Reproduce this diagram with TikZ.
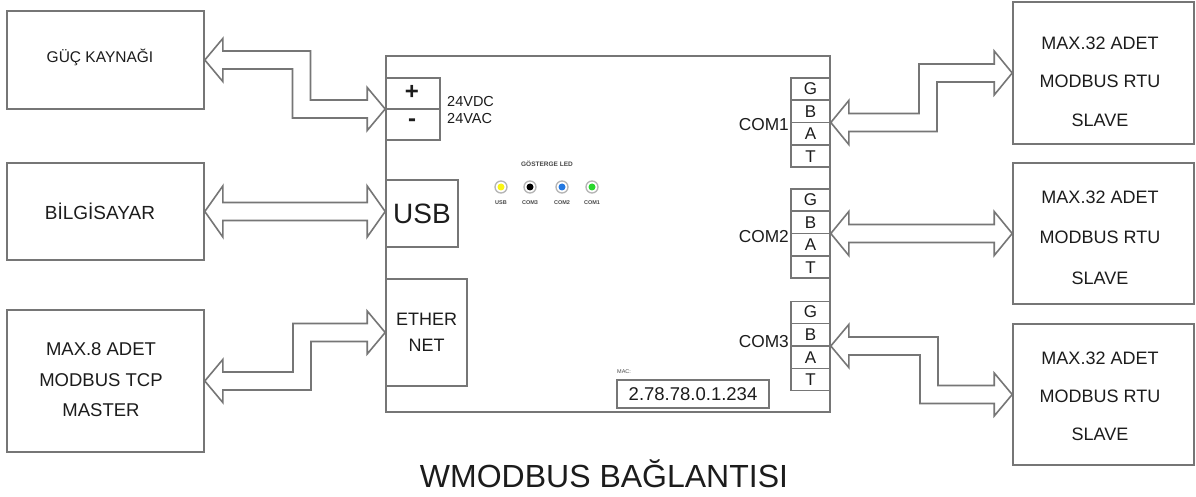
\documentclass[tikz,border=0pt]{standalone}
\usepackage{fontspec}
\setmainfont{Liberation Sans}
\usetikzlibrary{calc}
\definecolor{lc}{RGB}{118,118,118}
\definecolor{tc}{RGB}{28,28,28}
\definecolor{ledY}{RGB}{250,245,20}
\definecolor{ledB}{RGB}{35,120,225}
\definecolor{ledG}{RGB}{40,215,45}
\newcommand{\fs}[2]{\fontsize{#1}{#2}\selectfont}
% #1 left node anchor, #2 right node anchor, #3 step x, #4 direction (+1 down, -1 up, 0 straight), #5 head half width
\newcommand{\dblarrow}[5]{%
 \draw[arr] let \p1=(#1), \p2=(#2) in
  (\p1) -- (\x1+18pt,\y1+#5pt) -- (\x1+18pt,\y1+9pt)
  -- ({#3pt+(#4)*9pt},\y1+9pt) -- ({#3pt+(#4)*9pt},\y2+9pt)
  -- (\x2-18pt,\y2+9pt) -- (\x2-18pt,\y2+#5pt) -- (\p2)
  -- (\x2-18pt,\y2-#5pt) -- (\x2-18pt,\y2-9pt)
  -- ({#3pt-(#4)*9pt},\y2-9pt) -- ({#3pt-(#4)*9pt},\y1-9pt)
  -- (\x1+18pt,\y1-9pt) -- (\x1+18pt,\y1-#5pt) -- cycle;}
\tikzset{
  box/.style={draw=lc, line width=1.6pt, fill=white, inner sep=0pt, align=center, text=tc},
  txt/.style={inner sep=0pt, align=center, text=tc},
  arr/.style={draw=lc, line width=1.6pt, fill=white, line join=miter},
  sep/.style={draw=lc, line width=1.6pt},
  ledring/.style={circle, draw=lc!55, line width=1.3pt, fill=white, minimum size=12pt, inner sep=0pt},
  ledcore/.style={circle, minimum size=7pt, inner sep=0pt},
  tiny/.style={txt, font=\fs{5.5}{6}\bfseries, text=tc!80}
}
\begin{document}
\begin{tikzpicture}[x=1pt,y=-1pt]
\useasboundingbox[fill=white] (0,0) rectangle (1196,497);

% left boxes
\node[box, minimum width=197pt, minimum height=98pt] (guc) at (105.5,60) {};
\node[txt, font=\fs{15.5}{18}] (guctxt) at (100,57) {GÜÇ KAYNAĞI};
\node[box, minimum width=197pt, minimum height=97pt] (bil) at (105.5,211.5) {};
\node[txt, font=\fs{19}{22}] (biltxt) at (100,211) {BİLGİSAYAR};
\node[box, minimum width=197pt, minimum height=142pt] (mas) at (105.5,381) {};
\node[txt, font=\fs{18.5}{30.5}] (mastxt) at (101,380) {MAX.8 ADET\\MODBUS TCP\\MASTER};

% main device
\node[box, minimum width=444pt, minimum height=356pt] (main) at (608,234) {};
\node[box, minimum width=54pt, minimum height=62pt] (term) at (413,109) {};
\draw[sep] (term.west) -- (term.east);
\node[txt, font=\fs{24}{26}\bfseries] (plus) at (412,92) {+};
\node[txt, font=\fs{24}{26}\bfseries] (minus) at (412,123) {-};
\node[txt, anchor=west, font=\fs{14.5}{17}] (vdc) at (447,102) {24VDC};
\node[txt, anchor=west, font=\fs{14.5}{17}] (vac) at (447,119) {24VAC};

\node[box, minimum width=72pt, minimum height=67pt, font=\fs{28}{30}] (usb) at (422,213.5) {USB};
\node[box, minimum width=81pt, minimum height=107pt, font=\fs{18}{26}] (eth) at (426.5,332.5) {ETHER\\NET};

% LEDs
\node[tiny, font=\fs{6.5}{7}\bfseries] (ledtitle) at (547,164) {GÖSTERGE LED};
\node[ledring] (l1) at (501,187) {};
\node[ledring] (l2) at (530,187) {};
\node[ledring] (l3) at (562,187) {};
\node[ledring] (l4) at (592,187) {};
\node[ledcore, fill=ledY] at (l1) {};
\node[ledcore, fill=black] at (l2) {};
\node[ledcore, fill=ledB] at (l3) {};
\node[ledcore, fill=ledG] at (l4) {};
\node[tiny] (t1) at (501,203) {USB};
\node[tiny] (t2) at (530,203) {COM3};
\node[tiny] (t3) at (562,203) {COM2};
\node[tiny] (t4) at (592,203) {COM1};

% COM terminals
\foreach \n/\yc/\ly in {1/122.5/125, 2/233.5/237, 3/346/342}{
  \node[box, minimum width=39pt, minimum height=89pt] (com\n) at (810.5,\yc) {};
  \draw[sep] ($(com\n.north west)!0.25!(com\n.south west)$) -- ($(com\n.north east)!0.25!(com\n.south east)$);
  \draw[sep] (com\n.west) -- (com\n.east);
  \draw[sep] ($(com\n.north west)!0.75!(com\n.south west)$) -- ($(com\n.north east)!0.75!(com\n.south east)$);
  \node[txt, font=\fs{17}{18}] at ($(com\n.north)!0.125!(com\n.south)$) {G};
  \node[txt, font=\fs{17}{18}] at ($(com\n.north)!0.375!(com\n.south)$) {B};
  \node[txt, font=\fs{17}{18}] at ($(com\n.north)!0.625!(com\n.south)$) {A};
  \node[txt, font=\fs{17}{18}] at ($(com\n.north)!0.875!(com\n.south)$) {T};
  \node[txt, anchor=east, font=\fs{17.3}{19}] (cl\n) at (789,\ly) {COM\n};
}

% MAC
\node[txt, anchor=west, font=\fs{5.5}{6}, text=tc!80] (maclbl) at (617,372) {MAC:};
\node[box, minimum width=152pt, minimum height=28pt, font=\fs{18.5}{20}] (mac) at (693,394) {2.78.78.0.1.234};

% right boxes
\node[box, minimum width=181pt, minimum height=142pt] (s1) at (1103.5,73) {};
\node[box, minimum width=181pt, minimum height=141pt] (s2) at (1103.5,233.5) {};
\node[box, minimum width=181pt, minimum height=141pt] (s3) at (1103.5,394.5) {};
\node[txt, font=\fs{18}{38.5}] at (1100,81.5) {MAX.32 ADET\\MODBUS RTU\\SLAVE};
\node[txt, font=\fs{18}{40.5}] at (1100,237.5) {MAX.32 ADET\\MODBUS RTU\\SLAVE};
\node[txt, font=\fs{18}{38}] at (1100,396) {MAX.32 ADET\\MODBUS RTU\\SLAVE};

% connectors
\dblarrow{guc.east}{term.west}{301.5}{1}{21.5}
\dblarrow{bil.east}{usb.west |- bil.east}{300}{0}{25.5}
\dblarrow{mas.east}{eth.west}{302}{-1}{21.5}
\dblarrow{com1.east}{s1.west}{928}{-1}{22}
\dblarrow{com2.east}{s2.west}{928}{0}{22}
\dblarrow{com3.east}{s3.west}{929}{1}{21.5}

% title
\node[txt, font=\fs{32}{34}] (title) at (604,474) {WMODBUS BAĞLANTISI};
\end{tikzpicture}
\end{document}
